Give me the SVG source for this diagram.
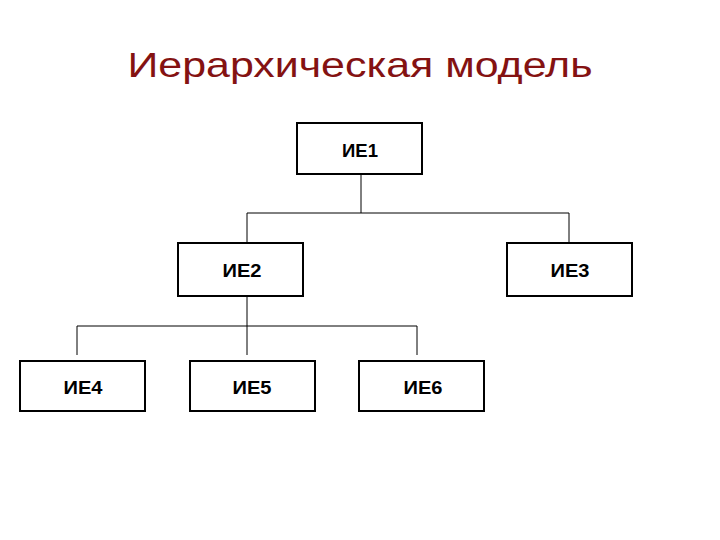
<svg xmlns="http://www.w3.org/2000/svg" width="720" height="540" viewBox="0 0 720 540">
<style>
.box{fill:#fff;stroke:#000;stroke-width:2}
.lbl{font-family:"Liberation Sans",Arial,sans-serif;font-size:18px;font-weight:bold;text-anchor:middle;fill:#000}
.conn{fill:none;stroke:#000;stroke-width:1}
.title{font-family:"Liberation Sans",Arial,sans-serif;font-size:35px;fill:#841212;text-anchor:middle}
</style>
<rect width="720" height="540" fill="#fff"/>
<text class="title" x="360" y="77" textLength="465" lengthAdjust="spacingAndGlyphs">Иерархическая модель</text>
<g id="connectors">
<path class="conn" d="M361 174V213M247 213H569M247 213V243M569 213V243"/>
<path class="conn" d="M247 296V326M77 326H417M77 326V355M247 326V355M417 326V355"/>
</g>
<g id="n1"><rect class="box" x="297" y="123" width="125" height="51"/><text class="lbl" x="360" y="157" textLength="36" lengthAdjust="spacingAndGlyphs">ИЕ1</text></g>
<g id="n2"><rect class="box" x="178" y="243" width="125" height="53"/><text class="lbl" x="242" y="277" textLength="39" lengthAdjust="spacingAndGlyphs">ИЕ2</text></g>
<g id="n3"><rect class="box" x="507" y="243" width="125" height="53"/><text class="lbl" x="570" y="277" textLength="39" lengthAdjust="spacingAndGlyphs">ИЕ3</text></g>
<g id="n4"><rect class="box" x="20" y="361" width="125" height="50"/><text class="lbl" x="83" y="394" textLength="39" lengthAdjust="spacingAndGlyphs">ИЕ4</text></g>
<g id="n5"><rect class="box" x="190" y="361" width="125" height="50"/><text class="lbl" x="252" y="394" textLength="39" lengthAdjust="spacingAndGlyphs">ИЕ5</text></g>
<g id="n6"><rect class="box" x="359" y="361" width="125" height="50"/><text class="lbl" x="423" y="394" textLength="39" lengthAdjust="spacingAndGlyphs">ИЕ6</text></g>
</svg>
